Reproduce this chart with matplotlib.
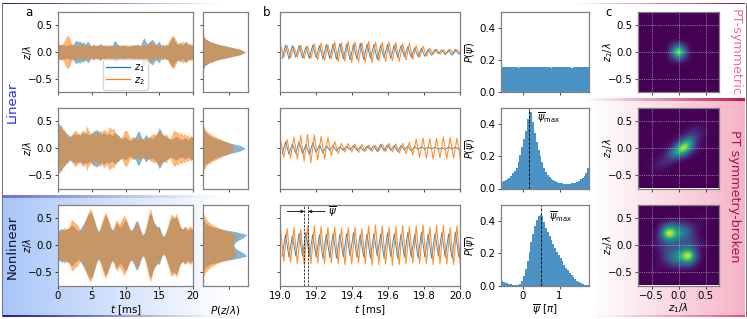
import matplotlib
matplotlib.use('Agg')
import matplotlib.pyplot as plt
import numpy as np
from matplotlib.colors import LinearSegmentedColormap

W, H = 747, 319

# panel a: envelopes of z1, z2 over 0-20 ms (one value each 0.25 ms)
env1_r1 = [.16,.13,.15,.12,.14,.11,.13,.15,.12,.14,.20,.22,.19,.21,.17,.19,.15,.18,.20,.14,
           .12,.14,.11,.13,.12,.15,.13,.12,.14,.12,.11,.13,.12,.19,.21,.16,.13,.12,.11,.13,
           .12,.10,.12,.11,.13,.14,.12,.15,.13,.12,.22,.27,.20,.15,.18,.22,.24,.19,.14,.18,
           .20,.13,.15,.11,.14,.12,.18,.24,.28,.22,.17,.14,.19,.15,.13,.17,.20,.14,.16,.12,.13]
env2_r1 = [.12,.14,.13,.17,.22,.30,.31,.26,.17,.14,.16,.12,.14,.13,.16,.12,.14,.11,.13,.12,
           .12,.15,.13,.12,.14,.16,.12,.13,.11,.12,.14,.12,.13,.10,.14,.12,.11,.13,.15,.12,
           .14,.13,.12,.14,.11,.13,.12,.14,.12,.13,.14,.12,.13,.16,.20,.18,.14,.13,.15,.12,
           .13,.12,.11,.13,.14,.16,.22,.28,.31,.29,.22,.16,.14,.18,.21,.17,.20,.15,.13,.16,.14]
env1_r2 = [.48,.44,.40,.34,.32,.28,.26,.22,.24,.26,.28,.25,.27,.24,.28,.30,.26,.29,.26,.25,
           .29,.32,.33,.35,.32,.28,.26,.30,.27,.25,.28,.26,.24,.27,.30,.26,.24,.20,.18,.20,
           .22,.18,.16,.14,.18,.20,.22,.30,.32,.24,.17,.20,.26,.22,.19,.20,.18,.22,.25,.30,
           .38,.33,.26,.24,.22,.20,.18,.16,.18,.20,.22,.20,.17,.18,.16,.20,.18,.16,.18,.22,.20]
env2_r2 = [.30,.38,.44,.36,.32,.26,.22,.20,.24,.30,.34,.32,.28,.26,.32,.34,.30,.42,.34,.30,
           .26,.28,.24,.26,.30,.34,.30,.36,.34,.30,.38,.40,.34,.38,.28,.24,.22,.18,.22,.30,
           .34,.32,.24,.18,.22,.18,.16,.20,.18,.22,.18,.16,.20,.18,.22,.24,.26,.28,.24,.30,
           .32,.28,.26,.24,.28,.22,.18,.22,.30,.34,.30,.32,.26,.30,.24,.28,.22,.26,.20,.24,.18]
env1_r3 = [.30,.28,.32,.30,.28,.30,.32,.33,.38,.36,.32,.30,.26,.30,.34,.40,.46,.52,.58,.62,
           .60,.52,.42,.32,.26,.30,.38,.48,.56,.52,.44,.36,.28,.30,.38,.42,.36,.34,.38,.44,
           .48,.42,.34,.28,.30,.36,.44,.46,.38,.28,.20,.22,.30,.42,.56,.60,.50,.42,.38,.34,
           .36,.26,.18,.18,.24,.32,.42,.50,.52,.50,.54,.48,.38,.32,.30,.34,.30,.28,.32,.30,.28]
env2_r3 = [.24,.28,.26,.30,.34,.30,.32,.38,.48,.46,.42,.40,.36,.30,.28,.36,.44,.54,.62,.68,
           .64,.52,.40,.28,.24,.34,.44,.54,.62,.56,.46,.34,.30,.34,.44,.48,.40,.42,.50,.56,
           .52,.44,.34,.26,.28,.32,.38,.42,.36,.26,.18,.22,.34,.48,.62,.68,.54,.40,.36,.30,
           .32,.22,.16,.16,.26,.36,.48,.58,.56,.52,.60,.52,.40,.32,.30,.36,.34,.32,.36,.34,.30]

# panel a: marginals P(z/lambda), y from -0.75 to 0.75 in steps of 0.05
p1_r1 = [0,0,0,0,0,0,0,0,0.02,.05,.18,.5,1.1,2.0,2.9,3.3,2.9,2.0,1.1,.5,.18,.05,.02,0,0,0,0,0,0,0,0]
p2_r1 = [0,0,0,0,0,0,0,0,0.02,.05,.18,.5,1.1,2.0,2.9,3.3,2.9,2.0,1.1,.5,.18,.05,.02,0,0,0,0,0,0,0,0]
p1_r2 = [0,0,0,0,0,0,0,.02,.08,.2,.45,.8,1.35,2.1,2.9,3.3,2.9,2.1,1.35,.8,.45,.2,.08,.02,0,0,0,0,0,0,0]
p2_r2 = [0,0,0,0,0,0,.02,.07,.18,.38,.7,1.1,1.55,2.0,2.3,2.4,2.3,2.0,1.55,1.1,.7,.38,.18,.07,.02,0,0,0,0,0,0]
p1_r3 = [0,0,0,0,.01,.04,.1,.25,.6,1.4,2.6,3.4,3.2,2.8,2.5,2.4,2.5,2.8,3.2,3.4,2.6,1.4,.6,.25,.1,.04,.01,0,0,0,0]
p2_r3 = [0,0,.02,.05,.12,.22,.4,.65,1.0,1.5,2.1,2.5,2.55,2.45,2.35,2.3,2.35,2.45,2.55,2.5,2.1,1.5,1.0,.65,.4,.22,.12,.05,.02,0,0]

# panel b: successive extrema of z1, z2 between 19 and 20 ms
z1_r1 = [-.12,.13,-.13,.12,-.10,.12,-.11,.10,-.12,.13,-.11,.12,-.13,.14,-.12,.15,-.14,.16,-.13,.15,
         -.15,.14,-.13,.16,-.14,.15,-.12,.14,-.14,.13,-.11,.14,-.12,.13,-.10,.12,-.09,.10,-.10,.08,
         -.09,.07,-.08,.05,-.06,.05,-.03,.04,-.05,.04,-.06,.05,-.04,.03]
z2_r1 = [.14,-.10,.12,-.11,.10,-.09,.13,-.13,.12,-.12,.15,-.15,.17,-.16,.14,-.13,.19,-.18,.17,-.17,
         .20,-.20,.19,-.19,.18,-.19,.20,-.20,.19,-.17,.18,-.18,.19,-.17,.18,-.18,.16,-.15,.17,-.14,
         .12,-.10,.11,-.08,.07,-.05,.05,-.04,.04,-.03,.05,-.03,.04,-.02]
z1_r2 = [-.10,.12,-.11,.08,-.09,.12,-.10,.07,-.12,.10,-.08,.06,-.09,.05,-.04,.05,-.05,.03,-.04,.04,
         -.03,.05,-.04,.03,-.05,.04,-.03,.05,-.06,.07,-.05,.06,-.04,.05,-.06,.05,-.03,.04,-.05,.03,
         -.02,.03,-.02,.02,-.01,.02,-.02,.01,-.02,.02,-.01,.02,-.02,.01]
z2_r2 = [.18,-.17,.16,-.18,.21,-.20,.24,-.24,.26,-.27,.25,-.22,.22,-.20,.20,-.14,.13,-.10,.09,-.07,
         .09,-.07,.08,-.08,.07,-.06,.06,-.06,.05,-.05,.08,-.06,.09,-.07,.08,-.09,.09,-.10,.11,-.13,
         .17,-.17,.19,-.19,.18,-.20,.19,-.18,.21,-.20,.20,-.19,.19,-.20]
z1_r3 = [-.20,.20,-.22,.18,-.20,.22,-.20,.24,-.21,.20,-.22,.20,-.24,.21,-.22,.22,-.24,.20,-.22,.22,
         -.20,.23,-.22,.20,-.22,.21,-.24,.22,-.20,.21,-.24,.23,-.21,.22,-.24,.21,-.22,.24,-.22,.20,
         -.23,.24,-.22,.21,-.24,.22,-.20,.23,-.22,.21,-.24,.25,-.22,.24]
z2_r3 = [.34,-.30,.31,-.32,.33,-.34,.30,-.36,.35,-.34,.36,-.33,.35,-.35,.33,-.33,.34,-.34,.32,-.36,
         .33,-.35,.34,-.33,.31,-.34,.36,-.37,.38,-.36,.36,-.35,.34,-.37,.35,-.36,.37,-.35,.35,-.33,
         .36,-.34,.38,-.35,.34,-.36,.37,-.34,.36,-.35,.33,-.36,.36,-.38]

# psi histograms, bins of 0.05 from -0.6 to 1.8
psi_edges = np.linspace(-0.6, 1.8, 49)
h_r1 = [.155,.156,.154,.155,.157,.155,.154,.156,.155,.153,.155,.156,.154,.155,.156,.155,
        .154,.155,.157,.155,.156,.154,.155,.155,.156,.154,.155,.153,.155,.156,.155,.154,
        .156,.155,.154,.155,.156,.155,.153,.155,.156,.154,.155,.155,.156,.154,.155,.156]
h_r2 = [.042,.046,.052,.06,.068,.08,.095,.108,.13,.165,.21,.255,.305,.36,.43,.50,
        .475,.41,.345,.29,.24,.2,.165,.125,.1,.085,.07,.058,.05,.044,.04,.036,
        .034,.032,.031,.03,.03,.031,.032,.034,.037,.042,.048,.056,.066,.078,.095,.125]
h_r3 = [.03,.024,.018,.014,.01,.007,.005,.004,.004,.006,.012,.03,.06,.1,.15,.21,
        .27,.32,.37,.405,.43,.44,.43,.395,.36,.33,.305,.28,.255,.23,.21,.19,
        .17,.15,.13,.11,.095,.08,.065,.05,.04,.03,.022,.016,.01,.006,.004,.002]
psi_max = [.17, .49]
psi_max_y = [.44, .43]
psi_marks = [19.135, 19.157]

# panel c: joint density on a 15x15 grid, top row is z2 = 0.7
c_r1 = [[0]*15, [0]*15, [0]*15, [0]*15, [0]*15,
        [0,0,0,0,0,0,.01,.02,.01,0,0,0,0,0,0],
        [0,0,0,0,0,.01,.16,.40,.16,.01,0,0,0,0,0],
        [0,0,0,0,0,.02,.40,1.0,.40,.02,0,0,0,0,0],
        [0,0,0,0,0,.01,.16,.40,.16,.01,0,0,0,0,0],
        [0,0,0,0,0,0,.01,.02,.01,0,0,0,0,0,0],
        [0]*15, [0]*15, [0]*15, [0]*15, [0]*15]
c_r2 = [[0]*15, [0]*15,
        [0,0,0,0,0,0,0,0,0,0,0,.01,.01,0,0],
        [0,0,0,0,0,0,0,0,0,.01,.03,.04,.02,0,0],
        [0,0,0,0,0,0,0,.01,.02,.06,.10,.06,.02,.01,0],
        [0,0,0,0,0,0,.01,.02,.08,.20,.18,.07,.02,0,0],
        [0,0,0,0,0,.01,.02,.12,.48,.62,.20,.04,.01,0,0],
        [0,0,0,0,.01,.02,.12,.55,1.0,.55,.12,.02,.01,0,0],
        [0,0,.01,.01,.02,.10,.48,.62,.48,.12,.02,.01,0,0,0],
        [0,0,.01,.02,.07,.18,.20,.08,.02,.01,0,0,0,0,0],
        [0,.01,.02,.06,.10,.06,.02,.01,0,0,0,0,0,0,0],
        [0,0,.02,.04,.03,.01,0,0,0,0,0,0,0,0,0],
        [0,0,.01,.01,0,0,0,0,0,0,0,0,0,0,0],
        [0]*15, [0]*15]
c_r3 = [[0]*15, [0]*15,
        [0,0,0,0,0,0,0,0,0,0,0,.02,.03,.01,0],
        [0,0,0,0,.05,.10,.14,.12,.10,.06,.03,.03,.01,0,0],
        [0,0,0,.02,.20,.55,.50,.34,.30,.18,.06,.02,0,0,0],
        [0,0,0,.03,.35,1.0,.78,.46,.38,.25,.09,.02,0,0,0],
        [0,0,.01,.05,.20,.42,.38,.28,.22,.18,.10,.03,0,0,0],
        [0,0,.02,.06,.14,.20,.20,.18,.20,.20,.14,.06,.02,0,0],
        [0,0,0,.03,.10,.18,.22,.28,.38,.42,.20,.05,.01,0,0],
        [0,0,0,.02,.09,.25,.38,.46,.78,1.0,.35,.03,0,0,0],
        [0,0,0,.02,.06,.18,.30,.34,.50,.55,.20,.02,0,0,0],
        [0,0,.01,.03,.03,.06,.10,.12,.14,.10,.05,0,0,0,0],
        [0,.01,.03,.02,0,0,0,0,0,0,0,0,0,0,0],
        [0]*15, [0]*15]

BLUE, ORANGE = 'tab:blue', 'tab:orange'
SPINE = '#808080'
FS = 7.4

plt.rcParams['font.size'] = FS
plt.rcParams['axes.linewidth'] = 0.9
plt.rcParams['axes.edgecolor'] = SPINE
plt.rcParams['xtick.major.size'] = 2.2
plt.rcParams['ytick.major.size'] = 2.2
plt.rcParams['xtick.major.width'] = 0.5
plt.rcParams['ytick.major.width'] = 0.5
plt.rcParams['xtick.major.pad'] = 2
plt.rcParams['ytick.major.pad'] = 2

fig = plt.figure(figsize=(W / 100, H / 100), dpi=100)


def px_axes(x0, x1, y0, y1):
    return fig.add_axes([x0 / W, 1 - y1 / H, (x1 - x0) / W, (y1 - y0) / H])


# background gradients and frame lines in pixel coordinates
bg = fig.add_axes([0, 0, 1, 1], zorder=-1)


def grad(x0, x1, y0, y1, c0, c1):
    cm = LinearSegmentedColormap.from_list('g', [c0, c1])
    bg.imshow(np.linspace(0, 1, 256)[None, :], cmap=cm, aspect='auto',
              extent=[x0, x1, y1, y0], interpolation='bilinear')


grad(2, 230, 197, 316, '#a9c6f9', '#ffffff')
grad(595, 745, 100, 316, '#ffffff', '#f5b3c6')
grad(2, 221, 2.8, 3.8, '#1a1a90', '#ffffff')
grad(2, 221, 195, 198, '#6f72cc', '#ffffff')
grad(2, 221, 315.5, 316.8, '#1a1a90', '#ffffff')
grad(572, 745, 2.8, 3.8, '#ffffff', '#a0103c')
grad(585, 745, 98, 101, '#ffffff', '#c01848')
grad(590, 745, 315.5, 316.8, '#ffffff', '#e8507c')
bg.plot([2, 2], [3, 316], color='#707070', lw=0.7)
bg.plot([745.5, 745.5], [3, 316], color='#707070', lw=0.7)
bg.set_xlim(0, W)
bg.set_ylim(H, 0)
bg.axis('off')

rows = [(12, 92), (108, 188.5), (205, 285.5)]
env = [(env1_r1, env2_r1), (env1_r2, env2_r2), (env1_r3, env2_r3)]
marg = [(p1_r1, p2_r1), (p1_r2, p2_r2), (p1_r3, p2_r3)]
fast = [(z1_r1, z2_r1), (z1_r2, z2_r2), (z1_r3, z2_r3)]
hists = [h_r1, h_r2, h_r3]
dens = [c_r1, c_r2, c_r3]
zgrid = np.arange(-0.75, 0.7501, 0.05)

for i, (y0, y1) in enumerate(rows):
    last = i == 2

    # a: time traces
    ax = px_axes(58, 193, y0, y1)
    t = np.linspace(0, 20, len(env[i][0]))
    ax.fill_between(t, -np.array(env[i][0]), env[i][0], color=BLUE, alpha=0.55, lw=0)
    ax.fill_between(t, -np.array(env[i][1]), env[i][1], color=ORANGE, alpha=0.55, lw=0)
    ax.set_xlim(0, 20)
    ax.set_ylim(-0.75, 0.75)
    ax.set_xticks([0, 5, 10, 15, 20])
    ax.set_yticks([-0.5, 0, 0.5])
    ax.set_ylabel(r'$z/\lambda$', fontsize=7)
    ax.yaxis.set_label_coords(-0.178, 0.5)
    if last:
        ax.set_xlabel(r'$t$ [ms]', labelpad=1)
    else:
        ax.set_xticklabels([])
    if i == 0:
        ax.plot([], [], color=BLUE, lw=0.9, label=r'$z_1$')
        ax.plot([], [], color=ORANGE, lw=0.9, label=r'$z_2$')
        ax.legend(loc='lower left', bbox_to_anchor=(0.30, -0.03), fontsize=7, handlelength=2.4,
                  labelspacing=0.1, borderpad=0.3, handletextpad=0.5)

    # a: marginal
    ax = px_axes(203, 248, y0, y1)
    ax.fill_betweenx(zgrid, 0, marg[i][0], color=BLUE, alpha=0.55, lw=0)
    ax.fill_betweenx(zgrid, 0, marg[i][1], color=ORANGE, alpha=0.55, lw=0)
    ax.set_xlim(0, 3.5)
    ax.set_ylim(-0.75, 0.75)
    ax.set_xticks([2])
    ax.set_yticks([-0.5, 0, 0.5])
    ax.set_yticklabels([])
    ax.set_xticklabels([])
    if last:
        ax.set_xlabel(r'$P(z/\lambda)$', fontsize=7.5, labelpad=9)

    # b: zoomed traces
    ax = px_axes(280, 460, y0, y1)
    ax.plot(np.linspace(19.012, 20.012, len(fast[i][0])), fast[i][0], color=BLUE, lw=0.7,
            alpha=0.85, solid_joinstyle='round')
    ax.plot(np.linspace(19.002, 20.002, len(fast[i][1])), fast[i][1], color=ORANGE, lw=0.8,
            alpha=0.85, solid_joinstyle='round')
    ax.set_xlim(19, 20)
    ax.set_ylim(-0.75, 0.75)
    ax.set_xticks([19, 19.2, 19.4, 19.6, 19.8, 20])
    ax.set_yticks([-0.5, 0, 0.5])
    ax.set_yticklabels([])
    if last:
        ax.set_xticklabels(['19.0', '19.2', '19.4', '19.6', '19.8', '20.0'])
        ax.set_xlabel(r'$t$ [ms]', labelpad=1)
        for m in psi_marks:
            ax.axvline(m, color='k', lw=0.5, ls='--')
        ax.annotate('', xy=(psi_marks[0], 0.63), xytext=(19.04, 0.63),
                    arrowprops=dict(arrowstyle='->', lw=0.6, color='k', mutation_scale=5,
                                    shrinkA=0, shrinkB=0))
        ax.annotate('', xy=(psi_marks[1], 0.63), xytext=(19.25, 0.63),
                    arrowprops=dict(arrowstyle='->', lw=0.6, color='k', mutation_scale=5,
                                    shrinkA=0, shrinkB=0))
        ax.text(19.265, 0.63, r'$\overline{\psi}$', va='center', fontsize=7.4)
    else:
        ax.set_xticklabels([])

    # psi histogram
    ax = px_axes(501, 589, y0, y1)
    ax.stairs(hists[i], psi_edges, fill=True, color='#4b93c5', lw=0)
    ax.set_xlim(-0.6, 1.8)
    ax.set_ylim(0, 0.5)
    ax.set_xticks([0, 1])
    ax.set_yticks([0, 0.2, 0.4])
    ax.set_ylabel(r'$P(\overline{\psi})$', fontsize=7)
    ax.yaxis.set_label_coords(-0.26, 0.5)
    if i > 0:
        ax.axvline(psi_max[i - 1], color='k', lw=0.6, ls='--')
        ax.text(psi_max[i - 1] + 0.22, psi_max_y[i - 1], r'$\overline{\psi}_{\mathrm{max}}$',
                va='center', fontsize=7)
    if last:
        ax.set_xlabel(r'$\overline{\psi}$ [$\pi$]', labelpad=1)
    else:
        ax.set_xticklabels([])

    # c: joint density
    ax = px_axes(638, 719, y0, y1)
    ax.imshow(dens[i], cmap='viridis', extent=[-0.75, 0.75, -0.75, 0.75],
              interpolation='bicubic', aspect='auto', vmin=0, vmax=0.8)
    ax.set_xticks([-0.5, 0, 0.5])
    ax.set_yticks([-0.5, 0, 0.5])
    ax.grid(True, color='#d8d8d8', lw=0.5, ls=':')
    ax.set_ylabel(r'$z_2/\lambda$', fontsize=7)
    ax.yaxis.set_label_coords(-0.28, 0.5)
    if last:
        ax.set_xlabel(r'$z_1/\lambda$', labelpad=0, fontsize=7.4)
    else:
        ax.set_xticklabels([])

# panel letters and row titles
fig.text(25 / W, 1 - 13 / H, 'a', fontsize=8.5, ha='left', va='center')
fig.text(263 / W, 1 - 13 / H, 'b', fontsize=8.5, ha='left', va='center')
fig.text(605 / W, 1 - 13 / H, 'c', fontsize=8.5, ha='left', va='center')
fig.text(12 / W, 1 - 102 / H, 'Linear', color='#2a2aff', fontsize=9.5, rotation=90,
         ha='center', va='center')
fig.text(12 / W, 1 - 247 / H, 'Nonlinear', color='#111133', fontsize=9.5, rotation=90,
         ha='center', va='center')
fig.text(735 / W, 1 - 52 / H, 'PT-symmetric', color='#f46a98', fontsize=9.2, rotation=-90,
         ha='center', va='center')
fig.text(735 / W, 1 - 196 / H, 'PT symmetry-broken', color='#b01040', fontsize=9.2, rotation=-90,
         ha='center', va='center')

fig.savefig('out.png', dpi=100)
